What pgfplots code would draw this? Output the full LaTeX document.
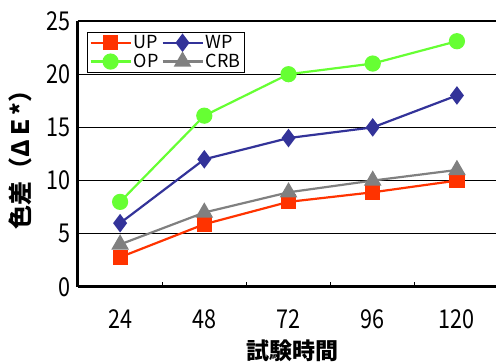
\documentclass[border=0pt]{standalone}
\usepackage{fontspec}
\usepackage{pgfplots}
\pgfplotsset{compat=1.18}
\setmainfont{Noto Sans CJK JP}
\newfontfamily\narrowfont{Noto Sans CJK JP}[FakeStretch=0.83]

\definecolor{upred}{RGB}{255,51,0}
\definecolor{wpblue}{RGB}{51,51,153}
\definecolor{opgreen}{RGB}{102,255,51}
\definecolor{crbgray}{RGB}{128,128,128}

\begin{document}
\begin{tikzpicture}
\begin{axis}[
  at={(78pt,76pt)}, anchor=south west,
  scale only axis, width=418pt, height=266pt,
  xmin=-0.5, xmax=4.464, ymin=0, ymax=25,
  axis lines*=left,
  axis line style={line width=3pt, black},
  ytick={0,5,...,25},
  ymajorgrids, grid style={black, line width=1pt},
  tick align=inside, major tick length=5pt,
  tick style={black, line width=1pt},
  xtick={0.5,1.5,2.5,3.5}, xticklabels={},
  extra x ticks={0,1,2,3,4},
  extra x tick labels={24,48,72,96,120},
  extra x tick style={major tick length=0pt},
  /pgf/number format/assume math mode=true,
  xticklabel style={font=\narrowfont\fontsize{26}{26}\selectfont, yshift=-19pt},
  yticklabel style={font=\narrowfont\fontsize{26}{26}\selectfont, xshift=-4pt},
  every axis y label/.style={at={(axis description cs:-0.139,0.5)}, rotate=90, anchor=center},
  every axis x label/.style={at={(axis description cs:0.514,-0.238)}, anchor=center},
  ylabel={\fontsize{24}{24}\selectfont\bfseries 色差（ΔＥ*）},
  xlabel={\fontsize{23}{23}\selectfont\bfseries 試験時間},
  legend columns=2,
  legend cell align=left,
  legend style={at={(axis description cs:0.0215,0.959)}, anchor=north west,
    draw=black, line width=1pt, fill=white,
    font=\fontsize{18}{18}\selectfont,
    inner xsep=2pt, inner ysep=1pt,
    /tikz/every even column/.append style={column sep=1pt},
    nodes={inner sep=2pt}},
  legend image code/.code={%
    \draw[mark repeat=2,mark phase=2,#1] plot coordinates {(0pt,0pt) (20pt,0pt) (40pt,0pt)};},
  clip=false,
]
\addplot[upred, line width=2.2pt, mark=square*, mark size=6.5pt, mark options={solid, fill=upred}]
  coordinates {(0,2.8) (1,5.9) (2,8.0) (3,8.9) (4,10.0)};
\addlegendentry{UP}
\addplot[wpblue, line width=2.2pt, mark=diamond*, mark size=7.5pt, mark options={solid, fill=wpblue}]
  coordinates {(0,6.0) (1,12.0) (2,14.0) (3,15.0) (4,18.0)};
\addlegendentry{WP}
\addplot[opgreen, line width=2.2pt, mark=*, mark size=7pt, mark options={solid, fill=opgreen}]
  coordinates {(0,8.0) (1,16.1) (2,20.0) (3,21.0) (4,23.1)};
\addlegendentry{OP}
\addplot[crbgray, line width=2.2pt, mark=triangle*, mark size=8pt, mark options={solid, fill=crbgray}]
  coordinates {(0,4.0) (1,7.0) (2,8.9) (3,10.0) (4,11.0)};
\addlegendentry{CRB}
% top frame line
\draw[black, line width=2.5pt] (rel axis cs:0,1) -- (rel axis cs:1,1);
\end{axis}
\pgfresetboundingbox
\path[use as bounding box] (0,0) rectangle (496pt,363pt);
\end{tikzpicture}
\end{document}
